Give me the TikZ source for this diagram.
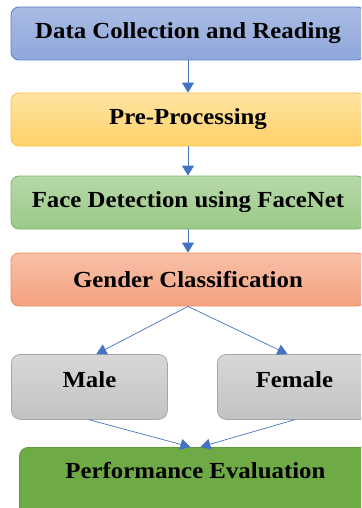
\documentclass[tikz,border=0pt]{standalone}
\usepackage{fontspec}
\setmainfont[FakeStretch=1.08]{Liberation Serif}
\usetikzlibrary{arrows.meta}
\definecolor{blueT}{HTML}{AABBE4}
\definecolor{blueB}{HTML}{8EA7DA}
\definecolor{blueD}{HTML}{5B7FC7}
\definecolor{yelT}{HTML}{FFE4A3}
\definecolor{yelB}{HTML}{FFD167}
\definecolor{yelD}{HTML}{F7C34A}
\definecolor{grnT}{HTML}{B7D9A9}
\definecolor{grnB}{HTML}{9BC988}
\definecolor{grnD}{HTML}{7DB563}
\definecolor{salT}{HTML}{F8C0A6}
\definecolor{salB}{HTML}{F4A282}
\definecolor{salD}{HTML}{EE8C5C}
\definecolor{gryT}{HTML}{D8D8D8}
\definecolor{gryB}{HTML}{C2C2C2}
\definecolor{gryD}{HTML}{A6A6A6}
\definecolor{perfF}{HTML}{6EAB46}
\definecolor{perfD}{HTML}{5E9A3C}
\definecolor{arrowblue}{HTML}{4472C4}
\begin{document}
\begin{tikzpicture}[x=1pt,y=-1pt,
  lbl/.style={font=\fontsize{23}{27}\selectfont\bfseries},
  flow/.style={lbl, draw, rounded corners=8pt, line width=0.8pt, minimum width=354pt, minimum height=53pt, inner sep=0pt},
  sidebox/.style={lbl, draw=gryD, top color=gryT, bottom color=gryB, rounded corners=9pt, line width=0.8pt, minimum width=156pt, inner xsep=0pt, inner ysep=0pt, text height=33pt, text depth=32pt, anchor=north west},
  arr/.style={draw=arrowblue, line width=0.9pt, -{Triangle[width=12pt,length=10pt,fill=arrowblue]}},
  darr/.style={draw=arrowblue, line width=0.7pt, -{Triangle[width=11pt,length=10pt,fill=arrowblue]}}
]
\path[use as bounding box, clip] (0,0) rectangle (361,508);
\node[flow, draw=blueD, top color=blueT, bottom color=blueB] (dc) at (188,33.5) {Data Collection and Reading};
\node[flow, draw=yelD, top color=yelT, bottom color=yelB] (pp) at (188,119.5) {Pre-Processing};
\node[flow, draw=grnD, top color=grnT, bottom color=grnB] (fd) at (188,202.5) {Face Detection using FaceNet};
\node[flow, draw=salD, top color=salT, bottom color=salB] (gc) at (188,279.5) {Gender Classification};
\node[sidebox] (m) at (11,354) {Male};
\node[sidebox, minimum width=154pt] (f) at (217,354) {Female};
\node[lbl, draw=perfD, fill=perfF, rounded corners=9pt, line width=0.8pt, minimum width=352pt, inner sep=0pt, text height=31pt, text depth=40pt, anchor=north west] (pe) at (19,447) {Performance Evaluation};
\draw[arr] (dc.south) -- (pp.north);
\draw[arr] (pp.south) -- (fd.north);
\draw[arr] (fd.south) -- (gc.north);
\draw[darr] (gc.south) -- ([xshift=7pt]m.north);
\draw[darr] (gc.south) -- ([xshift=-7pt]f.north);
\draw[darr] (m.south) -- ([xshift=-5pt]pe.north);
\draw[darr] (f.south) -- ([xshift=5pt]pe.north);
\end{tikzpicture}
\end{document}
